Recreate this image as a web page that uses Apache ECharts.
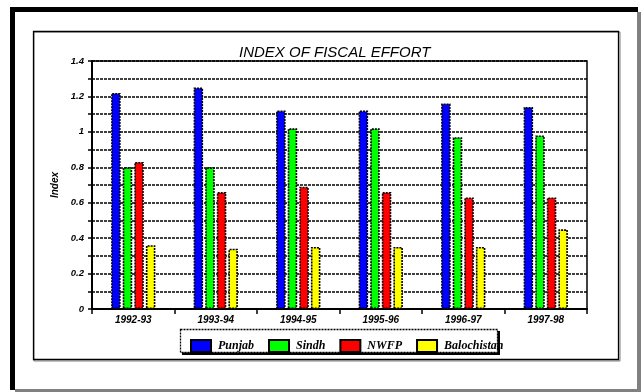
<!DOCTYPE html>
<html>
<head>
<meta charset="utf-8">
<script src="https://cdn.jsdelivr.net/npm/echarts@6/dist/echarts.min.js"></script>
<style>
  html, body { margin: 0; padding: 0; background: #fff; }
</style>
</head>
<body>
<!-- 641x392 画布 -->
<div id="main" style="width:641px; height:392px;"></div>
<script>
// 数据
var years = ['1992-93', '1993-94', '1994-95', '1995-96', '1996-97', '1997-98'];
var punjab = [1.22, 1.25, 1.12, 1.12, 1.16, 1.14];
var sindh = [0.80, 0.80, 1.02, 1.02, 0.97, 0.98];
var nwfp = [0.83, 0.66, 0.69, 0.66, 0.63, 0.63];
var balochistan = [0.36, 0.34, 0.35, 0.35, 0.35, 0.45];

var names = ['Punjab', 'Sindh', 'NWFP', 'Balochistan'];
var colors = ['#0000ff', '#00ff00', '#ff0000', '#ffff00'];
var values = [punjab, sindh, nwfp, balochistan];

var axisFont = {
  fontFamily: 'Liberation Sans, Arial, sans-serif',
  fontStyle: 'italic',
  fontWeight: 'bold',
  fontSize: 10,
  color: '#000'
};

var myChart = echarts.init(document.getElementById('main'));

var series = names.map(function (n, i) {
  return {
    name: n,
    type: 'bar',
    data: values[i],
    barWidth: 9.5,
    barGap: '22%',
    itemStyle: {
      color: colors[i],
      borderColor: '#000',
      borderWidth: 1.6,
      borderType: [2, 1]
    },
    z: 3
  };
});

myChart.setOption({
  animation: false,
  title: {
    text: 'INDEX OF FISCAL EFFORT',
    left: 234,
    top: 40,
    textStyle: {
      fontFamily: 'Liberation Sans, Arial, sans-serif',
      fontStyle: 'italic',
      fontWeight: 'normal',
      fontSize: 15,
      color: '#000'
    }
  },
  legend: {
    data: names,
    icon: 'rect',
    left: 185,
    top: 334,
    itemWidth: 20,
    itemHeight: 12,
    itemGap: 14,
    textStyle: {
      fontFamily: 'Liberation Serif, Times New Roman, serif',
      fontStyle: 'italic',
      fontWeight: 'bold',
      fontSize: 12,
      color: '#000',
      padding: [0, 0, 0, 2]
    },
    z: 5
  },
  grid: {
    left: 92,
    right: 54,
    top: 61,
    bottom: 83,
    show: true,
    borderColor: '#000',
    borderWidth: 1.5,
    containLabel: false
  },
  xAxis: {
    type: 'category',
    data: years,
    axisLine: { lineStyle: { color: '#000', width: 2 } },
    axisTick: { show: true, length: 5, inside: false, lineStyle: { color: '#000', width: 1.5 } },
    axisLabel: Object.assign({ margin: 6 }, axisFont),
    splitLine: { show: false }
  },
  yAxis: {
    type: 'value',
    min: 0,
    max: 1.4,
    interval: 0.1,
    name: 'Index',
    nameLocation: 'middle',
    nameRotate: 90,
    nameGap: 22,
    nameTextStyle: Object.assign({}, axisFont, { fontSize: 10 }),
    axisLine: { show: true, lineStyle: { color: '#000', width: 2 } },
    axisTick: { show: true, length: 4, lineStyle: { color: '#000', width: 1.5 } },
    axisLabel: Object.assign({
      margin: 8,
      formatter: function (v) {
        var k = Math.round(v * 10);
        if (k % 2 !== 0) return '';
        return String(Math.round(v * 10) / 10);
      }
    }, axisFont, { fontSize: 9.5 }),
    splitLine: { show: true, lineStyle: { color: '#000', width: 1.5, type: [3, 1] } }
  },
  graphic: [
    // 外框：左上黑色，右下灰色
    { type: 'rect', shape: { x: 10, y: 7, width: 628, height: 5 }, style: { fill: '#000' }, silent: true },
    { type: 'rect', shape: { x: 10, y: 7, width: 5, height: 383 }, style: { fill: '#000' }, silent: true },
    { type: 'rect', shape: { x: 637, y: 12, width: 4, height: 380 }, style: { fill: '#808080' }, silent: true },
    { type: 'rect', shape: { x: 15, y: 389, width: 626, height: 3 }, style: { fill: '#808080' }, silent: true },
    // 内框
    { type: 'rect', shape: { x: 34, y: 32, width: 586, height: 329 }, style: { fill: 'none', stroke: '#808080', lineWidth: 1 }, silent: true },
    { type: 'rect', shape: { x: 33.5, y: 31.5, width: 585, height: 328 }, style: { fill: 'none', stroke: '#000', lineWidth: 1.3 }, silent: true },
    // 图例框
    { type: 'rect', shape: { x: 182, y: 331, width: 318, height: 24 }, style: { fill: '#000' }, silent: true, z: 1 },
    { type: 'rect', shape: { x: 180.5, y: 329.5, width: 317, height: 23 }, style: { fill: '#fff', stroke: '#000', lineWidth: 1.3, lineDash: [2, 1] }, silent: true, z: 2 }
  ],
  series: series
});
</script>
</body>
</html>
